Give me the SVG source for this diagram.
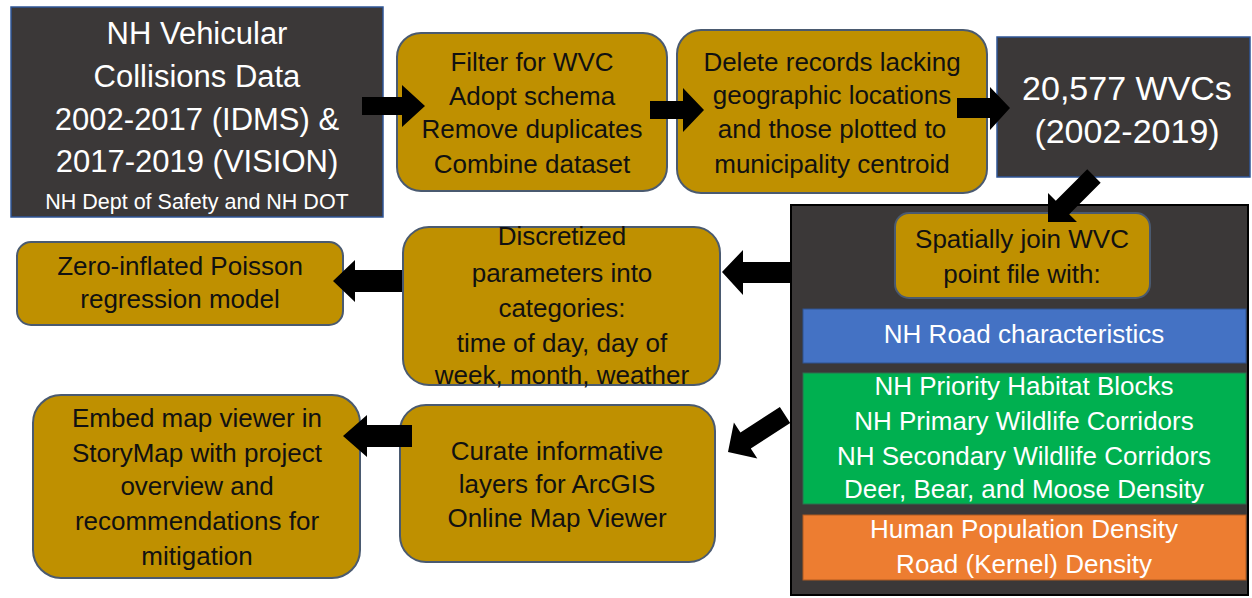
<svg xmlns="http://www.w3.org/2000/svg" width="1252" height="598" viewBox="0 0 1252 598">
<defs>
<style>
.dark{fill:#3b3838;stroke:#2f5597;stroke-width:1.5}
.gold{fill:#bf9000;stroke:#4a5a70;stroke-width:2}
.wt{fill:#ffffff;font-family:"Liberation Sans",Arial,sans-serif;text-anchor:middle}
.bt{fill:#111111;font-family:"Liberation Sans",Arial,sans-serif;text-anchor:middle;font-size:26px}
.arr{fill:#000000}
</style>
</defs>
<rect x="0" y="0" width="1252" height="598" fill="#ffffff"/>

<g id="container">
<rect x="791" y="205" width="457" height="390" fill="#3b3838" stroke="#000000" stroke-width="2"/>
</g>

<g id="source">
<rect class="dark" x="11" y="7" width="372" height="210"/>
<text class="wt" font-size="31" x="197" y="44">NH Vehicular</text>
<text class="wt" font-size="31" x="197" y="87">Collisions Data</text>
<text class="wt" font-size="31" x="197" y="130">2002-2017 (IDMS) &amp;</text>
<text class="wt" font-size="31" x="197" y="172">2017-2019 (VISION)</text>
<text class="wt" font-size="21.5" x="197" y="209">NH Dept of Safety and NH DOT</text>
</g>

<g id="filter">
<rect class="gold" x="397" y="33" width="270" height="158" rx="24"/>
<text class="bt" x="532" y="71">Filter for WVC</text>
<text class="bt" x="532" y="105">Adopt schema</text>
<text class="bt" x="532" y="138">Remove duplicates</text>
<text class="bt" x="532" y="173">Combine dataset</text>
</g>

<g id="delete">
<rect class="gold" x="677" y="30" width="310" height="163" rx="24"/>
<text class="bt" x="832" y="71">Delete records lacking</text>
<text class="bt" x="832" y="104">geographic locations</text>
<text class="bt" x="832" y="138">and those plotted to</text>
<text class="bt" x="832" y="173">municipality centroid</text>
</g>

<g id="wvcs">
<rect class="dark" x="997" y="37" width="253" height="140"/>
<text class="wt" font-size="34" x="1127" y="100">20,577 WVCs</text>
<text class="wt" font-size="34" x="1127" y="143">(2002-2019)</text>
</g>

<g id="spatial-join">
<rect class="gold" x="895" y="213" width="255" height="85" rx="14"/>
<text class="bt" x="1022" y="248">Spatially join WVC</text>
<text class="bt" x="1022" y="283">point file with:</text>
</g>

<g id="road">
<rect x="803" y="309" width="443" height="54" fill="#4472c4" stroke="#2f528f" stroke-width="1"/>
<text class="wt" font-size="26" x="1024" y="343">NH Road characteristics</text>
</g>

<g id="habitat">
<rect x="803" y="373" width="443" height="131" fill="#00b050" stroke="#2f6f4f" stroke-width="1"/>
<text class="wt" font-size="26" x="1024" y="395">NH Priority Habitat Blocks</text>
<text class="wt" font-size="26" x="1024" y="430">NH Primary Wildlife Corridors</text>
<text class="wt" font-size="26" x="1024" y="465">NH Secondary Wildlife Corridors</text>
<text class="wt" font-size="26" x="1024" y="498">Deer, Bear, and Moose Density</text>
</g>

<g id="human">
<rect x="803" y="515" width="443" height="65" fill="#ed7d31" stroke="#ae5a21" stroke-width="1"/>
<text class="wt" font-size="26" x="1024" y="538">Human Population Density</text>
<text class="wt" font-size="26" x="1024" y="573">Road (Kernel) Density</text>
</g>

<g id="discretized">
<rect class="gold" x="403" y="227" width="317" height="158" rx="26"/>
<text class="bt" x="562" y="245">Discretized</text>
<text class="bt" x="562" y="282">parameters into</text>
<text class="bt" x="562" y="317">categories:</text>
<text class="bt" x="562" y="352">time of day, day of</text>
<text class="bt" x="562" y="384">week, month, weather</text>
</g>

<g id="zip">
<rect class="gold" x="17" y="242" width="326" height="83" rx="14"/>
<text class="bt" x="180" y="275">Zero-inflated Poisson</text>
<text class="bt" x="180" y="308">regression model</text>
</g>

<g id="curate">
<rect class="gold" x="400" y="405" width="315" height="157" rx="26"/>
<text class="bt" x="557" y="460">Curate informative</text>
<text class="bt" x="557" y="493">layers for ArcGIS</text>
<text class="bt" x="557" y="527">Online Map Viewer</text>
</g>

<g id="embed">
<rect class="gold" x="33" y="395" width="327" height="183" rx="28"/>
<text class="bt" x="197" y="427">Embed map viewer in</text>
<text class="bt" x="197" y="462">StoryMap with project</text>
<text class="bt" x="197" y="495">overview and</text>
<text class="bt" x="197" y="530">recommendations for</text>
<text class="bt" x="197" y="565">mitigation</text>
</g>

<g id="connectors">
<polygon class="arr" points="362,97 402,97 402,85 425,106 402,127 402,115 362,115"/>
<polygon class="arr" points="650,101 683,101 683,88 704,110 683,132 683,119 650,119"/>
<polygon class="arr" points="957,98 990,98 990,87 1010,108 990,130 990,118 957,118"/>
<polygon class="arr" transform="translate(1048,222) rotate(135)" points="0,0 -20.5,-20.5 -20.5,-9.5 -65,-9.5 -65,9.5 -20.5,9.5 -20.5,20.5"/>
<polygon class="arr" points="792,262 743,262 743,250 722,272 743,295 743,283 792,283"/>
<polygon class="arr" points="402,270 355,270 355,260 333,281 355,302 355,292 402,292"/>
<polygon class="arr" transform="translate(728,452) rotate(147)" points="0,0 -21,-21.5 -21,-9.5 -68,-9.5 -68,9.5 -21,9.5 -21,21.5"/>
<polygon class="arr" points="412,425 367,425 367,415 343,436 367,457 367,447 412,447"/>
</g>
</svg>
